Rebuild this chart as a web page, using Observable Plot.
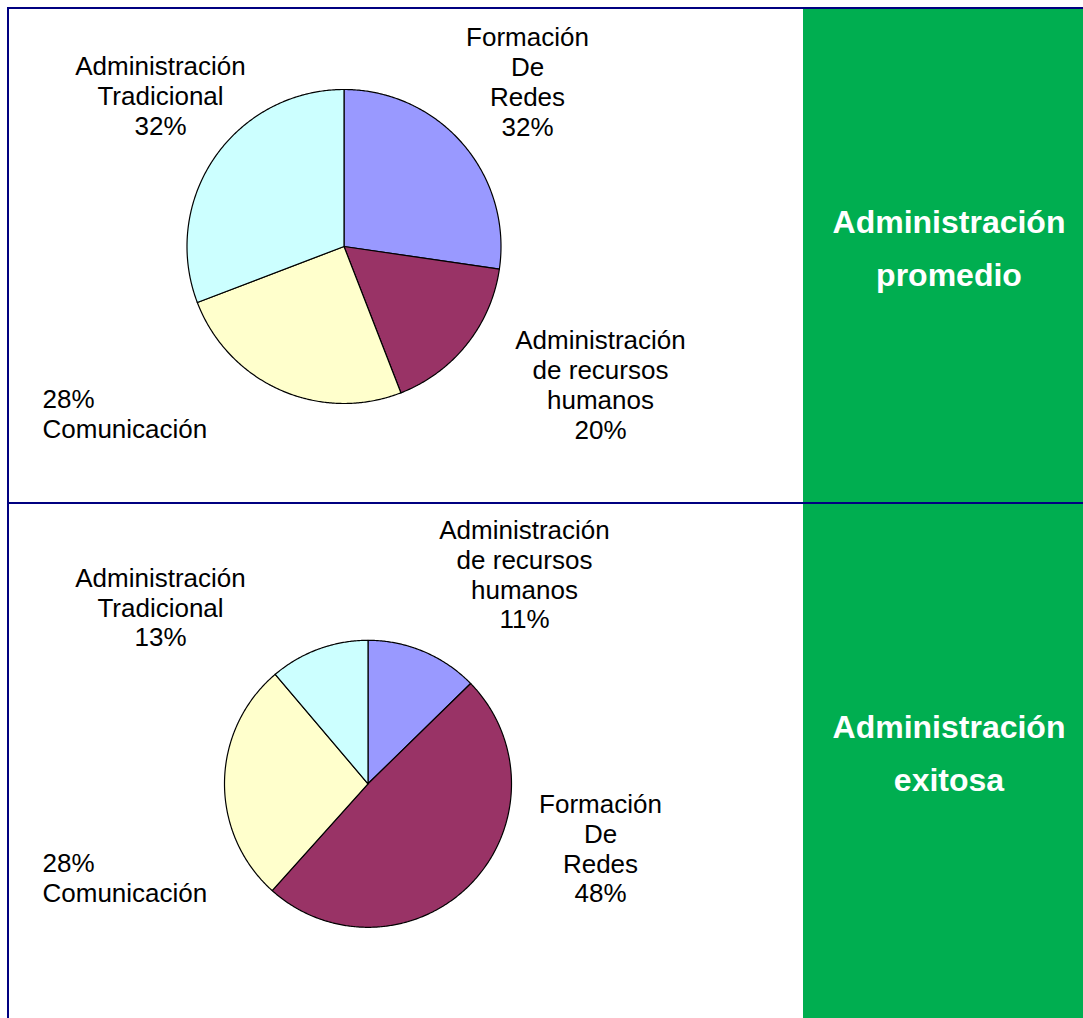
<!DOCTYPE html>
<html><head><meta charset="utf-8">
<script src="https://cdn.jsdelivr.net/npm/d3@7"></script>
<script src="https://cdn.jsdelivr.net/npm/@observablehq/plot@0.6"></script>
<style>
body{margin:0;background:#fff;}
#page{position:relative;width:1083px;height:1018px;overflow:hidden;font-family:"Liberation Sans",Arial,sans-serif;}
.navy{position:absolute;background:#000080;}
.green{position:absolute;background:#00AE50;}
.gtext{position:absolute;color:#fff;font-weight:bold;font-size:32px;text-align:center;line-height:53px;white-space:pre;}
.cell{position:absolute;}
.cell svg{display:block;}
</style></head><body>
<div id="page"></div>
<script>
// ---- data ----
const promedioCategories = ["Formación\nDe\nRedes", "Administración\nde recursos\nhumanos", "Comunicación", "Administración\nTradicional"];
const promedioPercentText = ["32%", "20%", "28%", "32%"];
const promedioShares = [27.3, 16.8, 25.1, 30.8];

const exitosaCategories = ["Administración\nde recursos\nhumanos", "Formación\nDe\nRedes", "Comunicación", "Administración\nTradicional"];
const exitosaPercentText = ["11%", "48%", "28%", "13%"];
const exitosaShares = [12.7, 49.0, 27.2, 11.2];

const sliceColors = ["#9999FF", "#993366", "#FFFFCC", "#CCFFFF"];
const panelTitles = ["Administración\npromedio", "Administración\nexitosa"];

// ---- layout (page px) ----
const panels = [
  {top: 9, height: 493, cx: 343.5, cy: 246, r: 157,
   categories: promedioCategories, pct: promedioPercentText, shares: promedioShares,
   pctFirst: [false, false, true, false],
   labelPos: [[527, 81], [600, 384], [42, 412.5], [160, 95]],
   labelAnchor: ["middle", "middle", "start", "middle"],
   titleY: 248.5},
  {top: 504, height: 514, cx: 367.5, cy: 783.3, r: 143.5,
   categories: exitosaCategories, pct: exitosaPercentText, shares: exitosaShares,
   pctFirst: [false, false, true, false],
   labelPos: [[524, 573.5], [600, 847.5], [42, 877], [160, 606.5]],
   labelAnchor: ["middle", "middle", "start", "middle"],
   titleY: 754}
];

const page = document.getElementById("page");
function box(cls, l, t, w, h) {
  const d = document.createElement("div");
  d.className = cls;
  Object.assign(d.style, {left: l + "px", top: t + "px", width: w + "px", height: h + "px"});
  page.appendChild(d);
  return d;
}

// green cells
box("green", 803, 9, 280, 493);
box("green", 803, 504, 280, 514);

panels.forEach((P, pi) => {
  const arcs = d3.pie().sort(null).value(d => d)(P.shares);
  const slices = arcs.map((a, i) => {
    const pts = [{x: P.cx, y: P.cy}];
    const n = Math.max(2, Math.ceil((a.endAngle - a.startAngle) / (Math.PI / 360)));
    for (let k = 0; k <= n; k++) {
      const t = a.startAngle + (a.endAngle - a.startAngle) * k / n;
      pts.push({x: P.cx + P.r * Math.sin(t), y: P.cy - P.r * Math.cos(t)});
    }
    pts.push({x: P.cx, y: P.cy});
    return {pts, color: sliceColors[i]};
  });
  const labels = P.categories.map((c, i) => ({
    text: P.pctFirst[i] ? P.pct[i] + "\n" + c : c + "\n" + P.pct[i],
    x: P.labelPos[i][0], y: P.labelPos[i][1], anchor: P.labelAnchor[i]
  }));
  const textOpts = {x: "x", y: "y", text: "text", fontSize: 26, lineHeight: 1.15, fill: "#000", lineAnchor: "middle"};
  const chart = Plot.plot({
    width: 794, height: P.height, margin: 0,
    x: {domain: [9, 803], range: [0, 794], axis: null},
    y: {domain: [P.top, P.top + P.height], range: [0, P.height], axis: null},
    style: {background: "transparent", fontFamily: "'Liberation Sans', Arial, sans-serif", overflow: "visible"},
    marks: [
      ...slices.map(s => Plot.line(s.pts, {x: "x", y: "y", fill: s.color, stroke: "#000", strokeWidth: 1.2, strokeLinejoin: "round"})),
      Plot.text(labels.filter(d => d.anchor === "middle"), {...textOpts, textAnchor: "middle"}),
      Plot.text(labels.filter(d => d.anchor === "start"), {...textOpts, textAnchor: "start"})
    ]
  });
  const cell = box("cell", 9, P.top, 794, P.height);
  cell.appendChild(chart);

  const g = box("gtext", 815, P.titleY - 53, 268, 106);
  g.textContent = panelTitles[pi];
});

// navy borders
box("navy", 7, 7, 1076, 2);
box("navy", 7, 7, 2, 1011);
box("navy", 7, 502, 1076, 2);
</script>
</body></html>
